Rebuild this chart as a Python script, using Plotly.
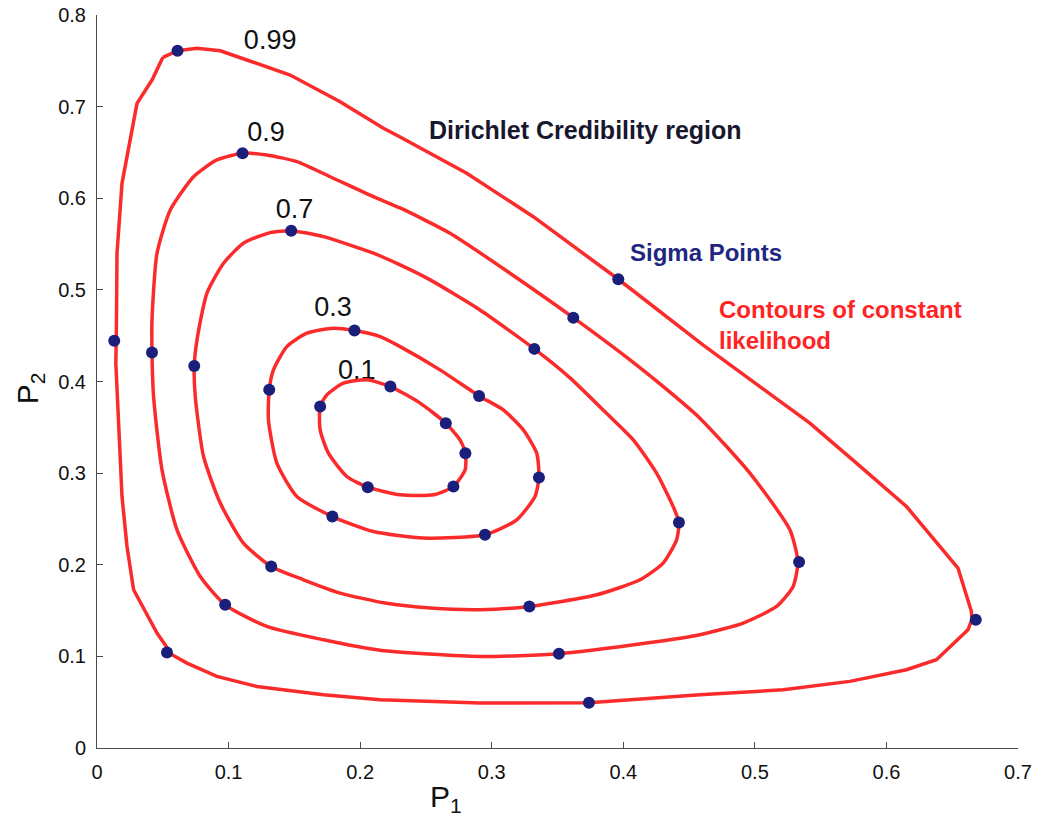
import plotly.graph_objects as go

# ---- contour levels of constant likelihood (P1, P2 coordinates) ----
levels = ["0.99", "0.9", "0.7", "0.3", "0.1"]

c099_p1 = [0.0501, 0.0612, 0.0760, 0.0937, 0.1139, 0.1468, 0.1848, 0.2177, 0.2304, 0.2810,
           0.3316, 0.3962, 0.4605, 0.5038, 0.5418, 0.5772, 0.6152, 0.6544, 0.6646, 0.6649,
           0.6620, 0.6380, 0.6152, 0.5722, 0.5215, 0.4582, 0.3739, 0.2911, 0.2152, 0.1721,
           0.1215, 0.0911, 0.0684, 0.0570, 0.0456, 0.0278, 0.0228, 0.0190, 0.0164, 0.0143,
           0.0147, 0.0152, 0.0190, 0.0304, 0.0418, 0.0501]
c099_p2 = [0.7538, 0.7610, 0.7636, 0.7610, 0.7509, 0.7345, 0.7054, 0.6763, 0.6669, 0.6273,
           0.5799, 0.5116, 0.4399, 0.3945, 0.3545, 0.3109, 0.2636, 0.1964, 0.1490, 0.1400,
           0.1290, 0.0963, 0.0854, 0.0727, 0.0636, 0.0581, 0.0494, 0.0491, 0.0527, 0.0581,
           0.0672, 0.0781, 0.0927, 0.1018, 0.1254, 0.1727, 0.2199, 0.2745, 0.3472, 0.4203,
           0.4527, 0.5400, 0.6163, 0.7036, 0.7290, 0.7538]

c09_p1 = [0.1106, 0.1291, 0.1519, 0.1772, 0.2101, 0.2304, 0.2683, 0.3139, 0.3620, 0.4051,
          0.4316, 0.4582, 0.4962, 0.5266, 0.5327, 0.5291, 0.5165, 0.4911, 0.4582, 0.4177,
          0.3511, 0.2911, 0.2152, 0.1721, 0.1291, 0.0974, 0.0785, 0.0608, 0.0494, 0.0430,
          0.0418, 0.0418, 0.0456, 0.0557, 0.0734, 0.0911, 0.1106]
c09_p2 = [0.6491, 0.6472, 0.6399, 0.6235, 0.6017, 0.5894, 0.5618, 0.5182, 0.4697, 0.4236,
          0.3930, 0.3600, 0.3000, 0.2381, 0.2032, 0.1763, 0.1545, 0.1364, 0.1236, 0.1145,
          0.1029, 0.0999, 0.1067, 0.1181, 0.1327, 0.1563, 0.1872, 0.2381, 0.3036, 0.3836,
          0.4316, 0.4672, 0.5400, 0.5872, 0.6235, 0.6418, 0.6491]

c07_p1 = [0.1476, 0.1721, 0.2101, 0.2304, 0.2532, 0.2911, 0.3324, 0.3595, 0.3861, 0.4076,
          0.4253, 0.4379, 0.4423, 0.4405, 0.4303, 0.4127, 0.3798, 0.3286, 0.2911, 0.2532,
          0.2190, 0.1848, 0.1569, 0.1324, 0.1113, 0.0937, 0.0810, 0.0747, 0.0739, 0.0760,
          0.0835, 0.0962, 0.1113, 0.1316, 0.1476]
c07_p2 = [0.5646, 0.5581, 0.5400, 0.5272, 0.5109, 0.4781, 0.4356, 0.4040, 0.3669, 0.3363,
          0.3000, 0.2636, 0.2461, 0.2272, 0.2018, 0.1836, 0.1672, 0.1545, 0.1509, 0.1527,
          0.1582, 0.1691, 0.1836, 0.1981, 0.2236, 0.2673, 0.3181, 0.3836, 0.4170, 0.4454,
          0.4963, 0.5291, 0.5509, 0.5625, 0.5646]

c03_p1 = [0.1957, 0.2152, 0.2304, 0.2607, 0.2904, 0.3088, 0.3240, 0.3342, 0.3359, 0.3329,
          0.3190, 0.2949, 0.2481, 0.2101, 0.1789, 0.1519, 0.1367, 0.1303, 0.1309, 0.1341,
          0.1443, 0.1595, 0.1797, 0.1957]
c03_p2 = [0.4556, 0.4490, 0.4381, 0.4127, 0.3843, 0.3690, 0.3472, 0.3218, 0.2952, 0.2745,
          0.2490, 0.2327, 0.2291, 0.2363, 0.2526, 0.2745, 0.3109, 0.3581, 0.3909, 0.4127,
          0.4381, 0.4527, 0.4582, 0.4556]

c01_p1 = [0.2230, 0.2456, 0.2651, 0.2759, 0.2800, 0.2798, 0.2709, 0.2557, 0.2304, 0.2058,
          0.1899, 0.1759, 0.1696, 0.1696, 0.1747, 0.1873, 0.2051, 0.2230]
c01_p2 = [0.3945, 0.3764, 0.3545, 0.3363, 0.3218, 0.3036, 0.2854, 0.2763, 0.2763, 0.2847,
          0.2963, 0.3218, 0.3472, 0.3726, 0.3854, 0.3982, 0.4018, 0.3945]

# ---- sigma points ----
sigma_p1 = [0.0612, 0.3962, 0.6679, 0.3739, 0.0532, 0.0131,
            0.1106, 0.3620, 0.5336, 0.3511, 0.0974, 0.0418,
            0.1476, 0.3324, 0.4423, 0.3286, 0.1324, 0.0739,
            0.1957, 0.2904, 0.3359, 0.2949, 0.1789, 0.1309,
            0.2230, 0.2651, 0.2800, 0.2709, 0.2058, 0.1696]
sigma_p2 = [0.7610, 0.5116, 0.1400, 0.0494, 0.1043, 0.4446,
            0.6491, 0.4697, 0.2029, 0.1029, 0.1563, 0.4316,
            0.5646, 0.4356, 0.2461, 0.1545, 0.1981, 0.4170,
            0.4556, 0.3843, 0.2952, 0.2327, 0.2526, 0.3909,
            0.3945, 0.3545, 0.3218, 0.2854, 0.2847, 0.3726]

# ---- axis ticks ----
x_ticks = [0, 0.1, 0.2, 0.3, 0.4, 0.5, 0.6, 0.7]
x_tick_text = ["0", "0.1", "0.2", "0.3", "0.4", "0.5", "0.6", "0.7"]
y_ticks = [0, 0.1, 0.2, 0.3, 0.4, 0.5, 0.6, 0.7, 0.8]
y_tick_text = ["0", "0.1", "0.2", "0.3", "0.4", "0.5", "0.6", "0.7", "0.8"]

# where each level's label sits
label_p1 = [0.1316, 0.1284, 0.1501, 0.1793, 0.1975]
label_p2 = [0.7699, 0.6699, 0.5859, 0.4790, 0.4105]

FONT = "Liberation Sans, Arial, Helvetica, sans-serif"
RED = "#fb2b2b"
NAVY = "#1b1f7c"

fig = go.Figure()

# level labels go underneath the contour lines
fig.add_trace(go.Scatter(
    x=label_p1, y=label_p2, mode="text", text=levels,
    textfont=dict(family=FONT, size=27, color="#111111"),
    hoverinfo="skip", showlegend=False,
))

contours = [
    (c099_p1, c099_p2, "linear"),
    (c09_p1, c09_p2, "spline"),
    (c07_p1, c07_p2, "spline"),
    (c03_p1, c03_p2, "spline"),
    (c01_p1, c01_p2, "spline"),
]
for cx, cy, shape in contours:
    fig.add_trace(go.Scatter(
        x=cx, y=cy, mode="lines",
        line=dict(color=RED, width=3.5, shape=shape, smoothing=0.6),
        hoverinfo="skip", showlegend=False,
    ))

fig.add_trace(go.Scatter(
    x=sigma_p1, y=sigma_p2, mode="markers",
    marker=dict(color=NAVY, size=12, line=dict(width=0)),
    showlegend=False,
))

axis_style = dict(
    showgrid=False, zeroline=False, showline=True, linecolor="#4a4a4a", linewidth=1,
    ticks="inside", ticklen=6, tickwidth=1, tickcolor="#4a4a4a",
    tickfont=dict(family=FONT, size=20, color="#111111"),
    mirror=False, ticklabelstandoff=6,
)
fig.update_xaxes(range=[0, 0.7], tickvals=x_ticks, ticktext=x_tick_text, **axis_style)
fig.update_yaxes(range=[0, 0.8], tickvals=y_ticks, ticktext=y_tick_text, **axis_style)

fig.add_annotation(
    x=0.2509, y=0.6745, xref="x", yref="y", xanchor="left", yanchor="middle",
    text="<b>Dirichlet Credibility region</b>", showarrow=False,
    font=dict(family=FONT, size=25, color="#17172e"),
)
fig.add_annotation(
    x=0.4038, y=0.5405, xref="x", yref="y", xanchor="left", yanchor="middle",
    text="<b>Sigma Points</b>", showarrow=False,
    font=dict(family=FONT, size=24, color="#1f2780"),
)
fig.add_annotation(
    x=0.4711, y=0.4618, xref="x", yref="y", xanchor="left", yanchor="middle", align="left",
    text="<b>Contours of constant<br>likelihood</b>", showarrow=False,
    font=dict(family=FONT, size=24, color="#ff2424"),
)

# axis titles
fig.add_annotation(
    x=0.379, y=-0.069, xref="paper", yref="paper", xanchor="center", yanchor="middle",
    text="P<sub>1</sub>", showarrow=False,
    font=dict(family=FONT, size=30, color="#111111"),
)
fig.add_annotation(
    x=-0.0724, y=0.4913, xref="paper", yref="paper", xanchor="center", yanchor="middle",
    text="P<sub>2</sub>", showarrow=False, textangle=-90,
    font=dict(family=FONT, size=30, color="#111111"),
)

fig.update_layout(
    width=1037, height=819,
    margin=dict(l=97, r=19, t=15, b=71, autoexpand=False),
    paper_bgcolor="white", plot_bgcolor="white",
    showlegend=False,
)

fig.write_html("out.html")
